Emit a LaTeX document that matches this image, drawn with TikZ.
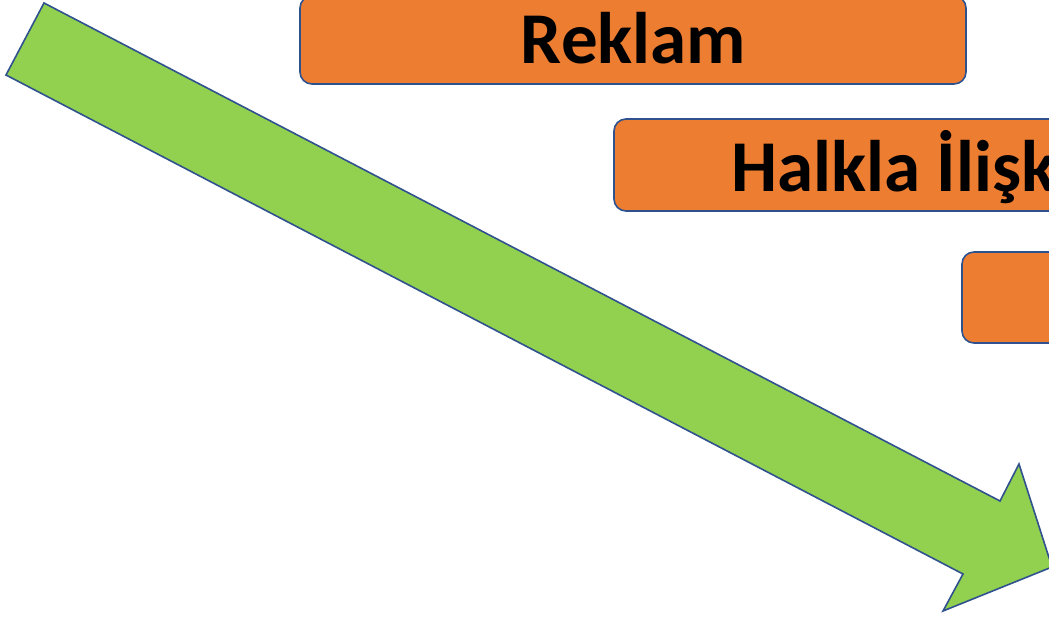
\documentclass[tikz,border=0pt]{standalone}
\usepackage{fontspec}
\setmainfont{Carlito}
\definecolor{boxorange}{HTML}{ED7D31}
\definecolor{arrgreen}{HTML}{92D050}
\definecolor{edgeblue}{HTML}{2F528F}
\begin{document}
\begin{tikzpicture}[x=1pt,y=-1pt,
  orangebox/.style={draw=edgeblue,fill=boxorange,line width=1.6pt,rounded corners=12pt,inner sep=0pt,outer sep=0pt},
  boxtext/.style={inner sep=0pt,font=\fontsize{73}{80}\selectfont\bfseries,text=black},
  bigarrow/.style={draw=edgeblue,fill=arrgreen,line width=1.6pt,line join=miter}]
\useasboundingbox (0,0) rectangle (1049,616);
\clip (0,0) rectangle (1049,616);
\fill[white] (0,0) rectangle (1049,616);
% green arrow
\coordinate (t1) at (44,3);
\coordinate (n1) at (1000,501);
\coordinate (b1) at (1019,464);
\coordinate (tip) at (1052,567);
\coordinate (b2) at (943,611);
\coordinate (n2) at (963,574);
\coordinate (t2) at (6,75);
\draw[bigarrow] (t1) -- (n1) -- (b1) -- (tip) -- (b2) -- (n2) -- (t2) -- cycle;
% boxes
\node[orangebox,minimum width=666pt,minimum height=88pt] (reklam) at (633,40) {};
\node[orangebox,minimum width=700pt,minimum height=92pt] (halkla) at (964,165) {};
\node[orangebox,minimum width=400pt,minimum height=91pt] (third) at (1162,297.5) {};
% texts
\node[boxtext,anchor=base] (reklamt) at (633.5,63) {Reklam};
\node[boxtext,anchor=base west] (halklat) at (731,191) {Halkla İlişk};
\end{tikzpicture}
\end{document}
